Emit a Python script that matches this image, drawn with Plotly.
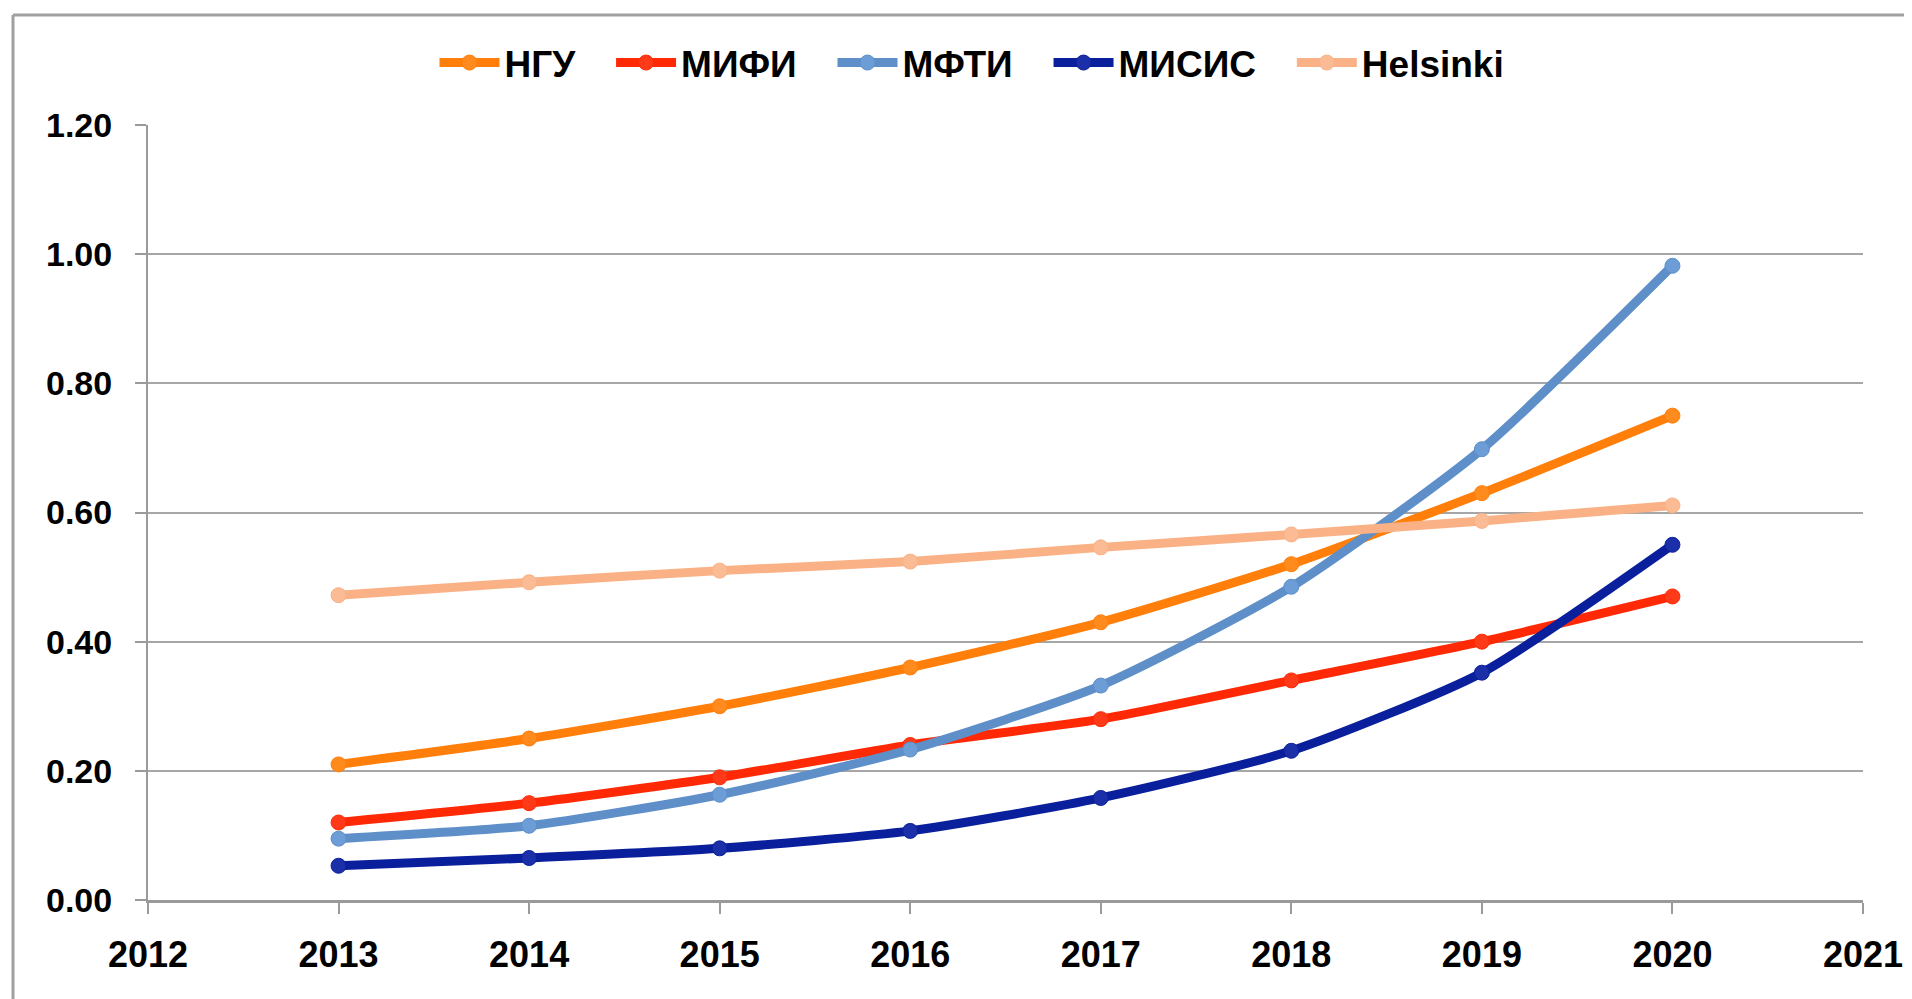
import plotly.graph_objects as go

years = [2013, 2014, 2015, 2016, 2017, 2018, 2019, 2020]
series_names = ["НГУ", "МИФИ", "МФТИ", "МИСИС", "Helsinki"]
ngu = [0.21, 0.25, 0.30, 0.36, 0.43, 0.52, 0.63, 0.75]
mifi = [0.12, 0.15, 0.19, 0.24, 0.28, 0.34, 0.40, 0.47]
mfti = [0.095, 0.115, 0.163, 0.233, 0.332, 0.485, 0.698, 0.982]
misis = [0.053, 0.065, 0.080, 0.107, 0.158, 0.231, 0.352, 0.550]
helsinki = [0.472, 0.492, 0.510, 0.524, 0.546, 0.566, 0.587, 0.611]
colors = ["#FF7F0A", "#FF2A05", "#5E8FC8", "#0A1F9C", "#F9B185"]
marker_colors = ["#FF8A1E", "#FF3A18", "#6C9DD6", "#1A2FA8", "#FBBC95"]
x_ticks = list(range(2012, 2022))
y_ticks = [0.0, 0.2, 0.4, 0.6, 0.8, 1.0, 1.2]

values = [ngu, mifi, mfti, misis, helsinki]

fig = go.Figure()
n = len(series_names)
for i, (name, vals, col, mcol) in enumerate(zip(series_names, values, colors, marker_colors)):
    label = name + ("\u00a0\u00a0\u00a0" if i < n - 1 else "")
    fig.add_trace(go.Scatter(
        x=years, y=vals, name=label, mode="lines+markers",
        line=dict(color=col, width=9, shape="spline", smoothing=0.6),
        marker=dict(color=mcol, size=15, line=dict(color=col, width=1)),
    ))

bold = dict(family="Liberation Sans, Arial, sans-serif", color="#000000", weight="bold")

# plot area target (page px): left 148, right 1863, top 125, bottom 900; page offset ~8px
PW = 1863 - 148
PH = 900 - 125

fig.update_layout(
    width=1912, height=999,
    margin=dict(l=140, r=57, t=117, b=107),
    paper_bgcolor="white", plot_bgcolor="white",
    showlegend=True,
    legend=dict(
        orientation="h", x=(972 - 148) / PW, xanchor="center",
        y=1.0 + (125 - 63) / PH, yanchor="middle",
        font=dict(size=37, **bold), itemwidth=60, tracegroupgap=0,
        bgcolor="rgba(0,0,0,0)",
    ),
    xaxis=dict(
        range=[2012, 2021], tickvals=x_ticks, ticktext=[str(v) for v in x_ticks],
        showgrid=False, showline=True, linecolor="#9a9a9a", linewidth=3,
        ticks="outside", ticklen=11, tickwidth=2, tickcolor="#9a9a9a",
        tickfont=dict(size=36, **bold), ticklabelstandoff=10, zeroline=False,
    ),
    yaxis=dict(
        range=[0, 1.2], tickvals=y_ticks, tickformat=".2f",
        showgrid=True, gridcolor="#a6a6a6", gridwidth=2,
        showline=True, linecolor="#9a9a9a", linewidth=2,
        ticks="outside", ticklen=11, tickwidth=2, tickcolor="#9a9a9a",
        tickfont=dict(size=34, **bold), ticklabelstandoff=16, zeroline=False,
    ),
)

# outer frame lines (left and top edges visible in the reference)
fx = (13 - 148) / PW
fy = (900 - 15) / PH
fig.add_shape(type="line", xref="paper", yref="paper",
              x0=fx, x1=1.1, y0=fy, y1=fy,
              line=dict(color="#a0a0a0", width=3), layer="below")
fig.add_shape(type="line", xref="paper", yref="paper",
              x0=fx, x1=fx, y0=fy, y1=-0.2,
              line=dict(color="#a0a0a0", width=3), layer="below")

fig.write_html("out.html")
